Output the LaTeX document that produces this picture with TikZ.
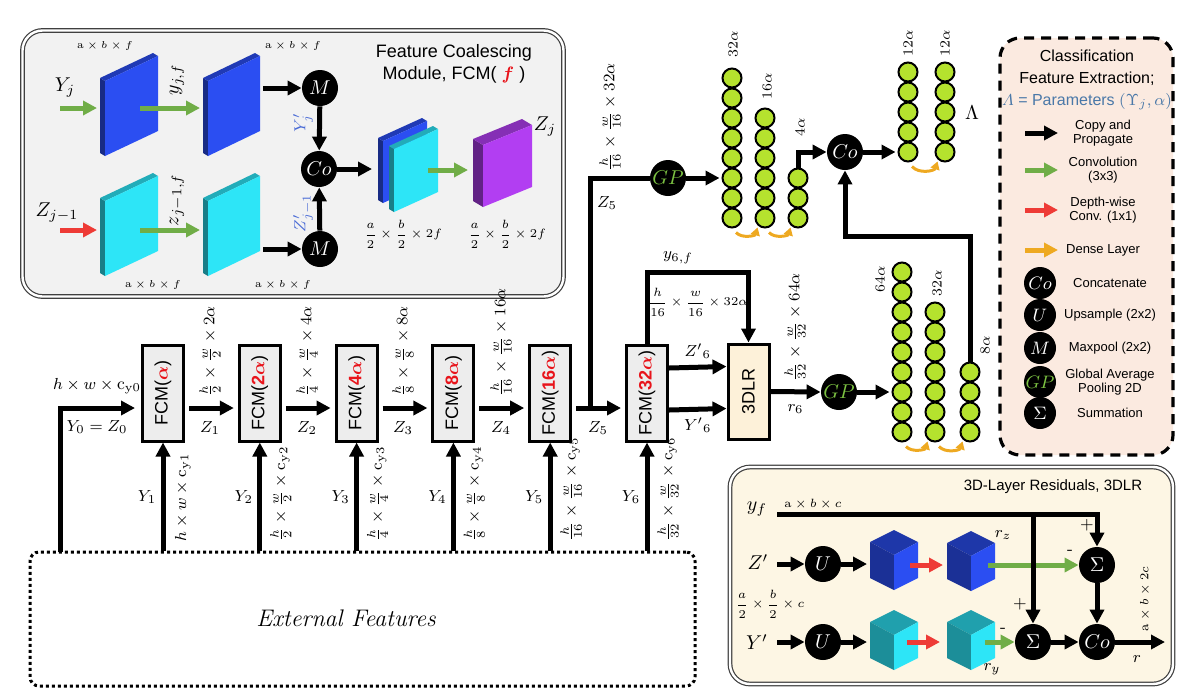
\documentclass[tikz,border=0pt]{standalone}
\usepackage{amsmath,bm}
\usepackage{fontspec}
\setsansfont{Liberation Sans}
\usetikzlibrary{arrows.meta,calc,positioning}

\definecolor{panelgray}{HTML}{F2F2F2}
\definecolor{fcmgray}{HTML}{EDEDED}
\definecolor{dlrcream}{HTML}{FDF6E4}
\definecolor{boxcream}{HTML}{FDF1D9}
\definecolor{legpink}{HTML}{FBEAE0}
\definecolor{convgreen}{HTML}{70AD47}
\definecolor{dwred}{HTML}{EE3B36}
\definecolor{denseyel}{HTML}{EEA921}
\definecolor{neurgreen}{HTML}{B5E22E}
\definecolor{gpgreen}{HTML}{7CC242}
\definecolor{fcmred}{HTML}{E8141B}
\definecolor{primeblue}{HTML}{4A6BD6}
\definecolor{lamblue}{HTML}{4A78A8}
\definecolor{slabblue}{HTML}{2B4EF2}
\definecolor{slabcyan}{HTML}{2DE5F7}
\definecolor{slabpurple}{HTML}{B23EF2}

\begin{document}
\begin{tikzpicture}[x=.5pt,y=-.5pt,
  cp/.style={line width=2.5pt,-{Triangle[length=7pt,width=7pt]}},
  conv/.style={cp,draw=convgreen},
  dw/.style={cp,draw=dwred},
  leggold/.style={cp,draw=denseyel},
  dense/.style={line width=1.5pt,draw=denseyel,-{Triangle[length=4pt,width=4.5pt]}},
  wire/.style={line width=2.5pt},
  op/.style={circle,fill=black,text=white,minimum size=18pt,inner sep=0pt,font=\fontsize{10}{10}\selectfont},
  fcm/.style={draw,line width=1.5pt,fill=fcmgray,minimum width=20.5pt,minimum height=48pt,inner sep=0pt,font=\sffamily\fontsize{9}{9}\selectfont},
  neuron/.style={circle,draw,line width=1pt,fill=neurgreen,minimum size=9.5pt,inner sep=0pt},
  lbl/.style={inner sep=0pt,font=\fontsize{8.5}{9}\selectfont},
  big/.style={inner sep=0pt,font=\fontsize{10}{10}\selectfont},
  dim/.style={inner sep=0pt,rotate=90,anchor=west,font=\fontsize{8}{9}\selectfont},
  tiny/.style={inner sep=0pt,font=\fontsize{5.5}{6}\selectfont},
  frac/.style={inner sep=0pt,font=\fontsize{6}{7}\selectfont},
  units/.style={inner sep=0pt,rotate=90,anchor=west,font=\fontsize{7.5}{8}\selectfont},
  legtxt/.style={align=center,font=\sffamily\fontsize{6.5}{7.2}\selectfont},
  panel/.style={draw=black!75,double,double distance=1.2pt,line width=.6pt,rounded corners=10pt}]
\useasboundingbox (0,0) rectangle (1184,698);

% Feature Coalescing Module
\node[panel,fill=panelgray,minimum width=270.5pt,minimum height=133pt] (fcmpanel) at (293,163.5) {};
\node[align=center,font=\sffamily\fontsize{9}{11}\selectfont] (fcmtitle) at (454,64) {Feature Coalescing\\Module, FCM( \textcolor{fcmred}{$\bm{f}$} )};
\foreach \x/\y/\w/\h/\s/\d/\c in {100/53/53/75/25/5/slabblue,203/53/52/75/25/5/slabblue,
  100/173/53/75/25/5/slabcyan,203/173/52/75/25/5/slabcyan,
  378/118/44/62/20/5/slabblue,389/126/44/63/20/5/slabcyan,473/119/49/62/20/10/slabpurple}{
  \fill[fill=\c!55!black] (\x,\y+\s) -- (\x+\d,\y+\s+.6*\d) -- (\x+\d,\y+\s+.6*\d+\h) -- (\x,\y+\s+\h) -- cycle;
  \fill[fill=\c!75!black] (\x,\y+\s) -- (\x+\w,\y) -- (\x+\w+\d,\y+.6*\d) -- (\x+\d,\y+\s+.6*\d) -- cycle;
  \fill[fill=\c] (\x+\d,\y+\s+.6*\d) -- (\x+\w+\d,\y+.6*\d) -- (\x+\w+\d,\y+.6*\d+\h) -- (\x+\d,\y+\s+.6*\d+\h) -- cycle;
}
\coordinate (yjin) at (60,108);
\coordinate (sa) at (97,108);
\coordinate (sam) at (140,108);
\coordinate (sb) at (200,108);
\coordinate (sbr) at (263,88);
\coordinate (zjin) at (60,230);
\coordinate (sc) at (97,230);
\coordinate (scm) at (140,230);
\coordinate (sd) at (200,230);
\coordinate (sdr) at (263,249);
\coordinate (se) at (372,169);
\coordinate (sem) at (428,170);
\coordinate (sf) at (468,170);
\node[op] (mxa) at (320,88) {$M$};
\node[op] (coc) at (319,169) {$Co$};
\node[op] (mxb) at (320,249) {$M$};
\draw[conv] (yjin) -- (sa);
\draw[conv] (sam) -- (sb);
\draw[dw] (zjin) -- (sc);
\draw[conv] (scm) -- (sd);
\draw[cp] (sbr) -- (mxa);
\draw[cp] (sdr) -- (mxb);
\draw[cp] (mxa) -- (coc);
\draw[cp] (mxb) -- (coc);
\draw[cp] (coc) -- (se);
\draw[conv] (sem) -- (sf);
\node[big] (yj) at (65,88) {$Y_j$};
\node[big] (zjm) at (57,213) {$Z_{j-1}$};
\node[big,rotate=90] (yjf) at (177,80) {$y_{j,f}$};
\node[big,rotate=90] (zjf) at (177,200) {$z_{j-1,f}$};
\node[tiny] (abfa) at (105,46) {$\mathrm{a}\times b\times f$};
\node[tiny] (abfb) at (293,46) {$\mathrm{a}\times b\times f$};
\node[tiny] (abfc) at (153,285) {$\mathrm{a}\times b\times f$};
\node[tiny] (abfd) at (283,285) {$\mathrm{a}\times b\times f$};
\node[lbl,rotate=90,text=primeblue] (yjp) at (303,123) {$Y'_j$};
\node[lbl,rotate=90,text=primeblue] (zjp) at (303,213) {$Z'_{j-1}$};
\node[frac] (abfe) at (403,234) {$\dfrac{a}{2}\times\dfrac{b}{2}\times 2f$};
\node[frac] (abff) at (507,234) {$\dfrac{a}{2}\times\dfrac{b}{2}\times 2f$};
\node[big] (zj) at (545,127) {$Z_j$};

% main chain
\node[draw,line width=1.5pt,dash pattern=on 1.5pt off 1.5pt,rounded corners=4.5pt,minimum width=332.5pt,minimum height=67pt] (ext) at (362.5,619) {};
\node[font=\itshape\fontsize{12}{12}\selectfont] (extlbl) at (346,618) {External Features};
\foreach \i/\m in {1/,2/2,3/4,4/8,5/16,6/32}
  \node[fcm] (fcm\i) at ({163+96.8*(\i-1)},393) {\rotatebox{90}{FCM(\textcolor{fcmred}{\bfseries\m$\bm{\alpha}$})}};
\coordinate (yin) at (60,552);
\draw[cp,shorten >=3pt] (yin) |- ([yshift=-7.5pt]fcm1.west);
\foreach \i [evaluate=\i as \j using int(\i+1)] in {1,...,5}
  \draw[cp,shorten <=2pt,shorten >=2pt] ([yshift=-7.5pt]fcm\i.east) -- ([yshift=-7.5pt]fcm\j.west);
\foreach \i in {1,...,6}
  \draw[cp] (ext.north -| fcm\i) -- (fcm\i.south);
\node[lbl] (y0dim) at (97,386) {$h\times w\times\mathrm{c}_{\mathrm{y}0}$};
\node[lbl] (y0z0) at (97,427) {$Y_0=Z_0$};
\foreach \i/\x in {1/210,2/307,3/403,4/501,5/598}
  \node[lbl] (z\i) at (\x,428) {$Z_{\i}$};
\foreach \i/\x/\d in {1/210/2,2/307/4,3/403/8,4/501/16}
  \node[dim] (dz\i) at (\x,397) {$\frac{h}{\d}\times\frac{w}{\d}\times \d\alpha$};
\foreach \i in {1,...,6}
  \node[lbl] (y\i) at ($(fcm\i)+(-16,104)$) {$Y_{\i}$};
\node[dim] (dy1) at ($(fcm1.south)+(20,99)$) {$h\times w\times\mathrm{c}_{\mathrm{y}1}$};
\foreach \i/\d in {2/2,3/4,4/8,5/16,6/32}
  \node[dim] (dy\i) at ($(fcm\i.south)+(21,99)$) {$\frac{h}{\d}\times\frac{w}{\d}\times\mathrm{c}_{\mathrm{y}\i}$};

% classification branch
\coordinate (zbr) at (590,408);
\node[op] (gpa) at (668,178) {\textcolor{gpgreen}{$GP$}};
\draw[wire] (zbr) |- (gpa.west);
\node[dim] (dz5) at (610,172) {$\frac{h}{16}\times\frac{w}{16}\times 32\alpha$};
\node[lbl] (z5b) at (607,203) {$Z_5$};
\foreach \k in {0,...,7} \node[neuron] (da\k) at (732,78+20*\k) {};
\foreach \k in {0,...,5} \node[neuron] (db\k) at (765,118+20*\k) {};
\foreach \k in {0,...,2} \node[neuron] (dc\k) at (798,178+20*\k) {};
\foreach \k in {0,...,4} \node[neuron] (dd\k) at (908,72+20*\k) {};
\foreach \k in {0,...,4} \node[neuron] (de\k) at (945,72+20*\k) {};
\foreach \k in {0,...,8} \node[neuron] (ea\k) at (902,272+20*\k) {};
\foreach \k in {0,...,6} \node[neuron] (eb\k) at (935,312+20*\k) {};
\foreach \k in {0,...,3} \node[neuron] (ec\k) at (970,372+20*\k) {};
\node[units] (lca) at (733,58) {$32\alpha$};
\node[units] (lcb) at (767,100) {$16\alpha$};
\node[units] (lcc) at (800,137) {$4\alpha$};
\node[units] (lcd) at (908,57) {$12\alpha$};
\node[units] (lce) at (945,57) {$12\alpha$};
\node[units] (lcf) at (880,293) {$64\alpha$};
\node[units] (lcg) at (937,297) {$32\alpha$};
\node[units] (lch) at (985,355) {$8\alpha$};
\node[big] (lam) at (972,113) {$\Lambda$};
\node[op] (coa) at (845,152) {$Co$};
\draw[cp,shorten >=1pt] (gpa) -- (da5);
\draw[cp] (dc0.north) |- (coa.west);
\draw[cp,shorten >=1pt] (coa) -- (dd4);
\draw[dense] ([xshift=2pt,yshift=-2pt]da7.south) to[bend right=60] ([yshift=-1pt]db5.south west);
\draw[dense] ([xshift=2pt,yshift=-2pt]db5.south) to[bend right=60] ([yshift=-1pt]dc2.south west);
\draw[dense] ([xshift=2pt,yshift=-2pt]dd4.south) to[bend right=60] ([yshift=-1pt]de4.south west);
\draw[dense] ([xshift=2pt,yshift=-2pt]ea8.south) to[bend right=60] ([yshift=-1pt]eb6.south west);
\draw[dense] ([xshift=2pt,yshift=-2pt]eb6.south) to[bend right=60] ([yshift=-1pt]ec3.south west);

% 3DLR branch
\node[draw,line width=1.5pt,fill=boxcream,minimum width=20.5pt,minimum height=47.5pt,inner sep=0pt,font=\sffamily\fontsize{9}{9}\selectfont] (dlr) at (748.5,391.5) {\rotatebox{90}{3DLR}};
\coordinate (ysix) at (700,272);
\draw[cp] (fcm6.north) |- (ysix) -| (dlr.north);
\node[lbl] (y6f) at (678,258) {$y_{6,f}$};
\node[inner sep=0pt,font=\fontsize{5.9}{7}\selectfont] (d6f) at (698,302) {$\dfrac{h}{16}\times\dfrac{w}{16}\times 32\alpha$};
\draw[cp] ([yshift=12.5pt]fcm6.east) -- ([yshift=12.5pt]dlr.west) node[midway,above=3pt,lbl] (zp6) {$Z'{}_6$};
\draw[cp] ([yshift=-8.5pt]fcm6.east) -- ([yshift=-8.5pt]dlr.west) node[midway,below=3pt,lbl] (yp6) {$Y'{}_6$};
\node[op] (gpb) at (839,392) {\textcolor{gpgreen}{$GP$}};
\draw[cp] (dlr.east) -- (gpb.west) node[midway,below=5pt,lbl] (r6) {$r_6$};
\node[dim] (d64) at (795,382) {$\frac{h}{32}\times\frac{w}{32}\times 64\alpha$};
\draw[cp,shorten >=1pt] (gpb) -- (ea6);
\coordinate (ret) at (845,236);
\draw[cp] (ec0.north) |- (ret) -- (coa.south);

% legend
\node[draw,line width=1.6pt,dash pattern=on 5pt off 3.5pt,rounded corners=10pt,fill=legpink,minimum width=86.5pt,minimum height=208.5pt] (legend) at (1086.5,246.5) {};
\node[align=center,font=\sffamily\fontsize{8}{11}\selectfont] (legtitle) at (1087,80) {Classification\\Feature Extraction;\\\textcolor{lamblue}{$\varLambda$ = Parameters $(\Upsilon_j,\alpha)$}};
\foreach \s/\y/\t [count=\i] in {cp/133/{Copy and\\Propagate},conv/170/{Convolution\\(3x3)},dw/210/{Depth-wise\\Conv. (1x1)},leggold/250/{Dense Layer}}{
  \coordinate (la\i) at (1025,\y);
  \coordinate (lb\i) at (1058,\y);
  \draw[\s] (la\i) -- (lb\i);
  \node[legtxt] (lt\i) at (1103,\y) {\t};
}
\foreach \sym/\y/\t [count=\i from 5] in {{$Co$}/283/Concatenate,{$U$}/315/{Upsample (2x2)},{$M$}/348/{Maxpool (2x2)},{\textcolor{gpgreen}{$GP$}}/382/{Global Average\\Pooling 2D},{$\Sigma$}/413/Summation}{
  \node[op,minimum size=16pt,font=\fontsize{9}{9}\selectfont] (lo\i) at (1040,\y) {\sym};
  \node[legtxt] (lt\i) at (1110,\y) {\t};
}

% 3D-Layer Residuals
\node[panel,fill=dlrcream,minimum width=221.5pt,minimum height=108.5pt] (dlrpanel) at (951.5,575.5) {};
\node[font=\sffamily\fontsize{7.5}{8}\selectfont] (dlrtitle) at (1053,487) {3D-Layer Residuals, 3DLR};
\foreach \cx/\ty/\c in {894/530/slabblue,971/531/slabblue,894/610/slabcyan,971/610/slabcyan}{
  \fill[fill=\c!70!black] (\cx,\ty) -- (\cx+24,\ty+12) -- (\cx,\ty+25) -- (\cx-24,\ty+12) -- cycle;
  \fill[fill=\c!62!black] (\cx-24,\ty+12) -- (\cx,\ty+25) -- (\cx,\ty+60) -- (\cx-24,\ty+48) -- cycle;
  \fill[fill=\c] (\cx,\ty+25) -- (\cx+24,\ty+12) -- (\cx+24,\ty+48) -- (\cx,\ty+60) -- cycle;
}
\node[op] (ua) at (823,564) {$U$};
\node[op] (ub) at (823,642) {$U$};
\node[op] (sga) at (1097,565) {$\Sigma$};
\node[op] (sgb) at (1033,642) {$\Sigma$};
\node[op] (cod) at (1097,642) {$Co$};
\coordinate (yfin) at (777,514);
\coordinate (zpin) at (777,564);
\coordinate (ypin) at (777,642);
\coordinate (cua) at (867,564);
\coordinate (cub) at (867,642);
\coordinate (rza) at (910,565);
\coordinate (rzb) at (943,565);
\coordinate (rzc) at (988,565);
\coordinate (rya) at (907,642);
\coordinate (ryb) at (940,642);
\coordinate (ryc) at (985,642);
\coordinate (rout) at (1165,642);
\draw[cp] (zpin) -- (ua);
\draw[cp] (ua) -- (cua);
\draw[dw] (rza) -- (rzb);
\draw[conv] (rzc) -- (sga);
\draw[cp] (ypin) -- (ub);
\draw[cp] (ub) -- (cub);
\draw[dw] (rya) -- (ryb);
\draw[conv] (ryc) -- (sgb);
\draw[cp] (yfin) -| (sga.north);
\draw[cp] (yfin -| sgb) -- (sgb.north);
\draw[cp] (sga) -- (cod);
\draw[cp] (sgb) -- (cod);
\draw[cp] (cod) -- (rout);
\node[big] (yf) at (757,509) {$y_f$};
\node[big] (zp) at (758,562) {$Z'$};
\node[big] (yp) at (757,642) {$Y'$};
\node[inner sep=0pt,font=\fontsize{6}{6}\selectfont] (abc) at (813,504) {$\mathrm{a}\times b\times c$};
\node[frac] (ab2c) at (770,604) {$\dfrac{a}{2}\times\dfrac{b}{2}\times c$};
\node[lbl] (rz) at (1003,535) {$r_z$};
\node[lbl] (ry) at (992,669) {$r_y$};
\node[lbl] (rr) at (1137,659) {$r$};
\node[inner sep=0pt,rotate=90,font=\fontsize{6.5}{7}\selectfont] (abcc) at (1145,599) {$\mathrm{a}\times b\times 2c$};
\node[lbl] (pla) at (1087,525) {+};
\node[lbl] (plb) at (1020,604) {+};
\node[lbl] (mia) at (1070,552) {-};
\node[lbl] (mib) at (1003,630) {-};
\end{tikzpicture}
\end{document}
